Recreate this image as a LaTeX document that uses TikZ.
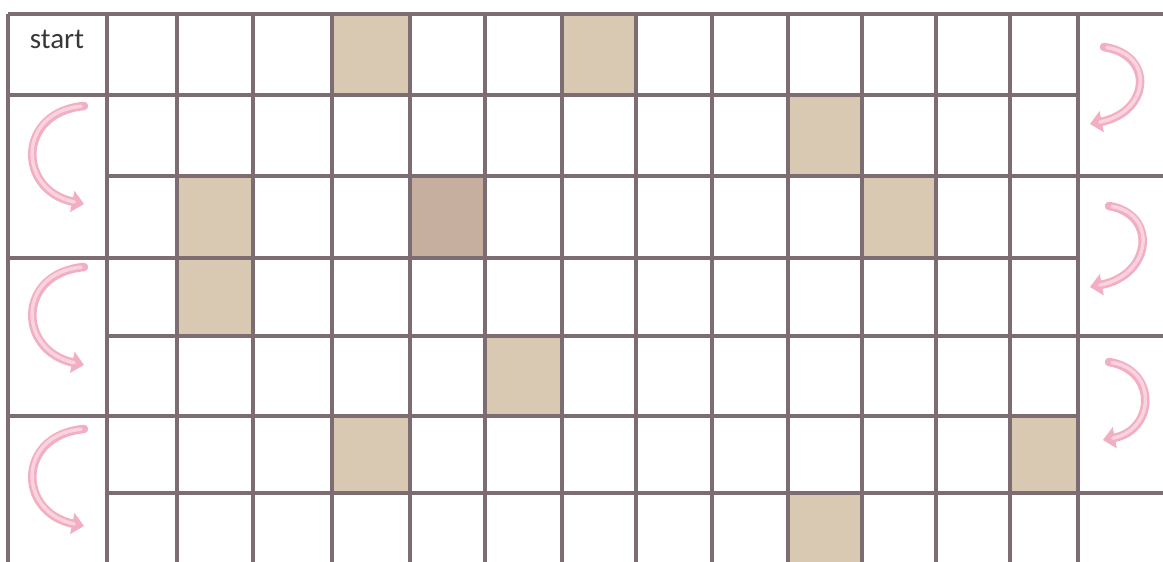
\documentclass[tikz,border=0pt]{standalone}
\usepackage{fontspec}
\setmainfont{Carlito}
\usetikzlibrary{arrows.meta}
\definecolor{gridline}{HTML}{7E6C73}
\definecolor{tan}{HTML}{D9C8B2}
\definecolor{tandark}{HTML}{C7AF9F}
\definecolor{arrowpink}{HTML}{F2AFC3}
\definecolor{arrowlight}{HTML}{F9D3DE}
\tikzset{
  gl/.style={draw=gridline, line width=3.2pt},
  shade/.style={fill=tan},
  shadedark/.style={fill=tandark},
  turn/.style={line width=8.5pt, draw=arrowpink, line cap=round,
    -{Triangle[length=12pt,width=21pt]},
    postaction={draw=arrowlight, line width=3.5pt, -, shorten >=10pt, shorten <=3pt}},
  lbl/.style={font=\fontsize{29}{31}\selectfont, text=black!78, inner sep=0pt, anchor=base}
}
\begin{document}
\begin{tikzpicture}[x=1pt,y=-1pt]
\useasboundingbox (0,0) rectangle (1163,562);
\fill[white] (0,0) rectangle (1163,562);
% shaded cells
\fill[shade] (332,14) rectangle (410,95);
\fill[shade] (562,14) rectangle (636,95);
\fill[shade] (788,95) rectangle (862,176);
\fill[shade] (177,176) rectangle (253,336);
\fill[shadedark] (410,176) rectangle (485,258);
\fill[shade] (862,176) rectangle (936,258);
\fill[shade] (485,336) rectangle (562,416);
\fill[shade] (332,416) rectangle (410,493);
\fill[shade] (1010,416) rectangle (1078,493);
\fill[shade] (788,493) rectangle (862,562);
% vertical lines
\foreach \x in {8,107,177,253,332,410,485,562,636,712,788,862,936,1010,1078}
  \draw[gl] (\x,14) -- (\x,563);
% horizontal lines
\draw[gl] (8,14) -- (1163,14);
\foreach \y in {95,258,416} \draw[gl] (8,\y) -- (1078,\y);
\foreach \y in {176,336,493} \draw[gl] (107,\y) -- (1163,\y);
% start label
\node[lbl] (start) at (57,48) {start};
% turning arrows, left side
\draw[turn] (84,106) .. controls (17,112) and (17,190) .. (84,204);
\draw[turn] (84,267) .. controls (17,273) and (17,350) .. (84,365);
\draw[turn] (84,429) .. controls (17,435) and (17,512) .. (84,526);
% turning arrows, right side
\draw[turn] (1104,47) .. controls (1155,55) and (1150,112) .. (1090,124);
\draw[turn] (1109,206) .. controls (1158,214) and (1152,275) .. (1090,287);
\draw[turn] (1109,362) .. controls (1158,370) and (1155,430) .. (1103,440);
\end{tikzpicture}
\end{document}
